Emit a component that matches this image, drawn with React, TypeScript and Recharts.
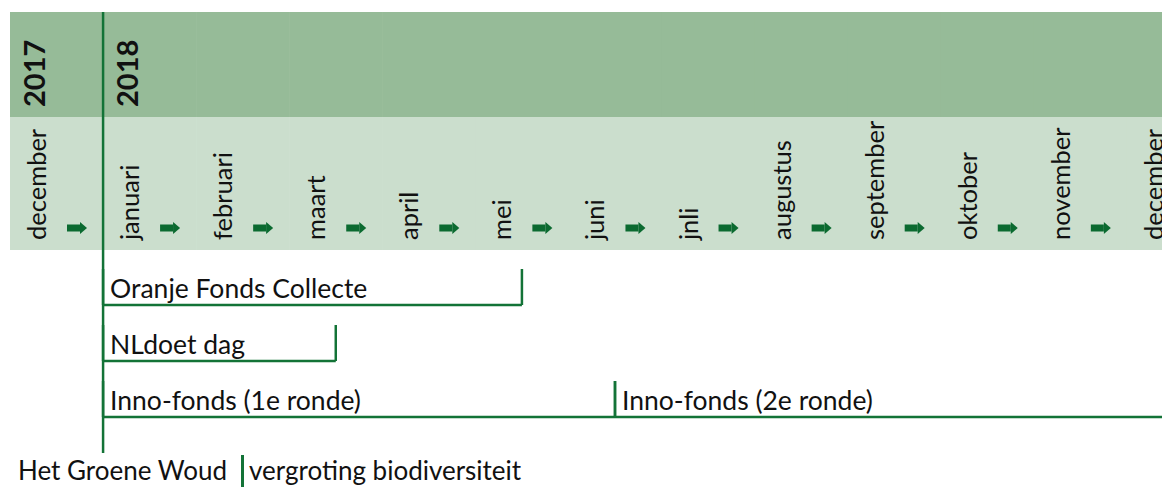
import { ComposedChart, Bar, XAxis, YAxis, ReferenceLine } from 'recharts';

// months shown in the header band (first one is december 2017)
const months = [
  'december', 'januari', 'februari', 'maart', 'april', 'mei', 'juni',
  'jnli', 'augustus', 'september', 'oktober', 'november', 'december',
];
// month index (in months) where a new year starts, and its label
const yearStarts = [0, 1];
const yearLabels = ['2017', '2018'];

// timeline rows; values in months after 1 januari 2018
const rows = ['Oranje Fonds Collecte', 'NLdoet dag', 'Inno-fonds'];
const phase1Labels = ['Oranje Fonds Collecte', 'NLdoet dag', 'Inno-fonds (1e ronde)'];
const phase1Start = [0, 0, 0];
const phase1End = [4.5, 2.5, 5.5];
const phase2Labels = [null, null, 'Inno-fonds (2e ronde)'];
const phase2Start = [null, null, 5.5];
const phase2End = [null, null, 12];

const footerLeft = 'Het Groene Woud';
const footerRight = 'vergroting biodiversiteit';

const GREEN = '#137337';
const ARROW = '#0b6a30';
const DARK_BAND = '#96bb98';
const LIGHT_BAND = '#cbdecd';
const FONT = 'Lato, "Noto Sans", sans-serif';

const CHART_W = 1220;
const MARGIN_LEFT = 10;
const DOMAIN: [number, number] = [-1, 12];
const MONTH_W = (CHART_W - MARGIN_LEFT) / (DOMAIN[1] - DOMAIN[0]);

const data = rows.map((task, i) => ({
  task,
  phase1: [phase1Start[i], phase1End[i]],
  label1: phase1Labels[i],
  phase2: phase2Start[i] == null ? null : [phase2Start[i], phase2End[i]],
  label2: phase2Labels[i],
}));

const monthTicks = months.map((_m, i) => DOMAIN[0] + i + 0.5);

const MonthTick = (props: any) => {
  const { x, index } = props;
  const left = x - MONTH_W / 2;
  const yearIdx = yearStarts.indexOf(index);
  return (
    <g>
      <rect x={left} y={12} width={MONTH_W + 0.6} height={105} fill={DARK_BAND} />
      <rect x={left} y={117} width={MONTH_W + 0.6} height={133} fill={LIGHT_BAND} />
      {yearIdx >= 0 && (
        <text
          transform={`translate(${left + 35},107) rotate(-90)`}
          fontFamily={FONT}
          fontWeight={700}
          fontSize={29}
          fill="#111"
        >
          {yearLabels[yearIdx]}
        </text>
      )}
      {yearIdx > 0 && (
        <line x1={left} y1={12} x2={left} y2={250} stroke={GREEN} strokeWidth={2.5} />
      )}
      <text
        transform={`translate(${left + 36},240) rotate(-90)`}
        fontFamily={FONT}
        fontSize={25.5}
        fill="#111"
      >
        {months[index]}
      </text>
      <g transform={`translate(${left + 67},228)`}>
        <rect x={-10} y={-3.5} width={13} height={7} fill={ARROW} />
        <path d="M3,-6 L10,0 L3,6 Z" fill={ARROW} />
      </g>
    </g>
  );
};

const makeSegment = (labelKey: 'label1' | 'label2') => (props: any) => {
  const { x, y, width, height, payload } = props;
  if (!payload || !payload[labelKey] || width == null) return null;
  const bottom = y + height;
  return (
    <g>
      <line x1={x} y1={bottom} x2={x + width} y2={bottom} stroke={GREEN} strokeWidth={2.5} />
      <line x1={x} y1={y} x2={x} y2={bottom} stroke={GREEN} strokeWidth={2.5} />
      <line x1={x + width} y1={y} x2={x + width} y2={bottom} stroke={GREEN} strokeWidth={2.5} />
      <text x={x + 7} y={bottom - 7} fontFamily={FONT} fontSize={26.5} fill="#111">
        {payload[labelKey]}
      </text>
    </g>
  );
};

const footerText = {
  position: 'absolute' as const,
  top: 457,
  fontFamily: FONT,
  fontSize: 26,
  lineHeight: '26px',
  color: '#111',
  whiteSpace: 'nowrap' as const,
};

const App = () => {
  return (
    <div
      style={{
        position: 'absolute',
        left: 0,
        top: 0,
        width: 1162,
        height: 487,
        overflow: 'hidden',
        background: '#fff',
      }}
    >
      <ComposedChart
        width={CHART_W}
        height={487}
        data={data}
        layout="vertical"
        barGap={-36}
        margin={{ top: 12, right: 0, bottom: 34, left: MARGIN_LEFT }}
      >
        <XAxis
          type="number"
          orientation="top"
          domain={DOMAIN}
          ticks={monthTicks}
          interval={0}
          height={238}
          axisLine={false}
          tickLine={false}
          tick={<MonthTick />}
          allowDataOverflow
        />
        <YAxis type="category" dataKey="task" hide padding={{ top: 9, bottom: 26 }} />
        <ReferenceLine x={0} stroke={GREEN} strokeWidth={2.5} />
        <Bar dataKey="phase1" barSize={36} shape={makeSegment('label1')} isAnimationActive={false} />
        <Bar dataKey="phase2" barSize={36} shape={makeSegment('label2')} isAnimationActive={false} />
      </ComposedChart>
      <div style={{ ...footerText, left: 18 }}>{footerLeft}</div>
      <div style={{ position: 'absolute', left: 241, top: 455, width: 2.5, height: 32, background: GREEN }} />
      <div style={{ ...footerText, left: 249 }}>{footerRight}</div>
    </div>
  );
};

export default App;
